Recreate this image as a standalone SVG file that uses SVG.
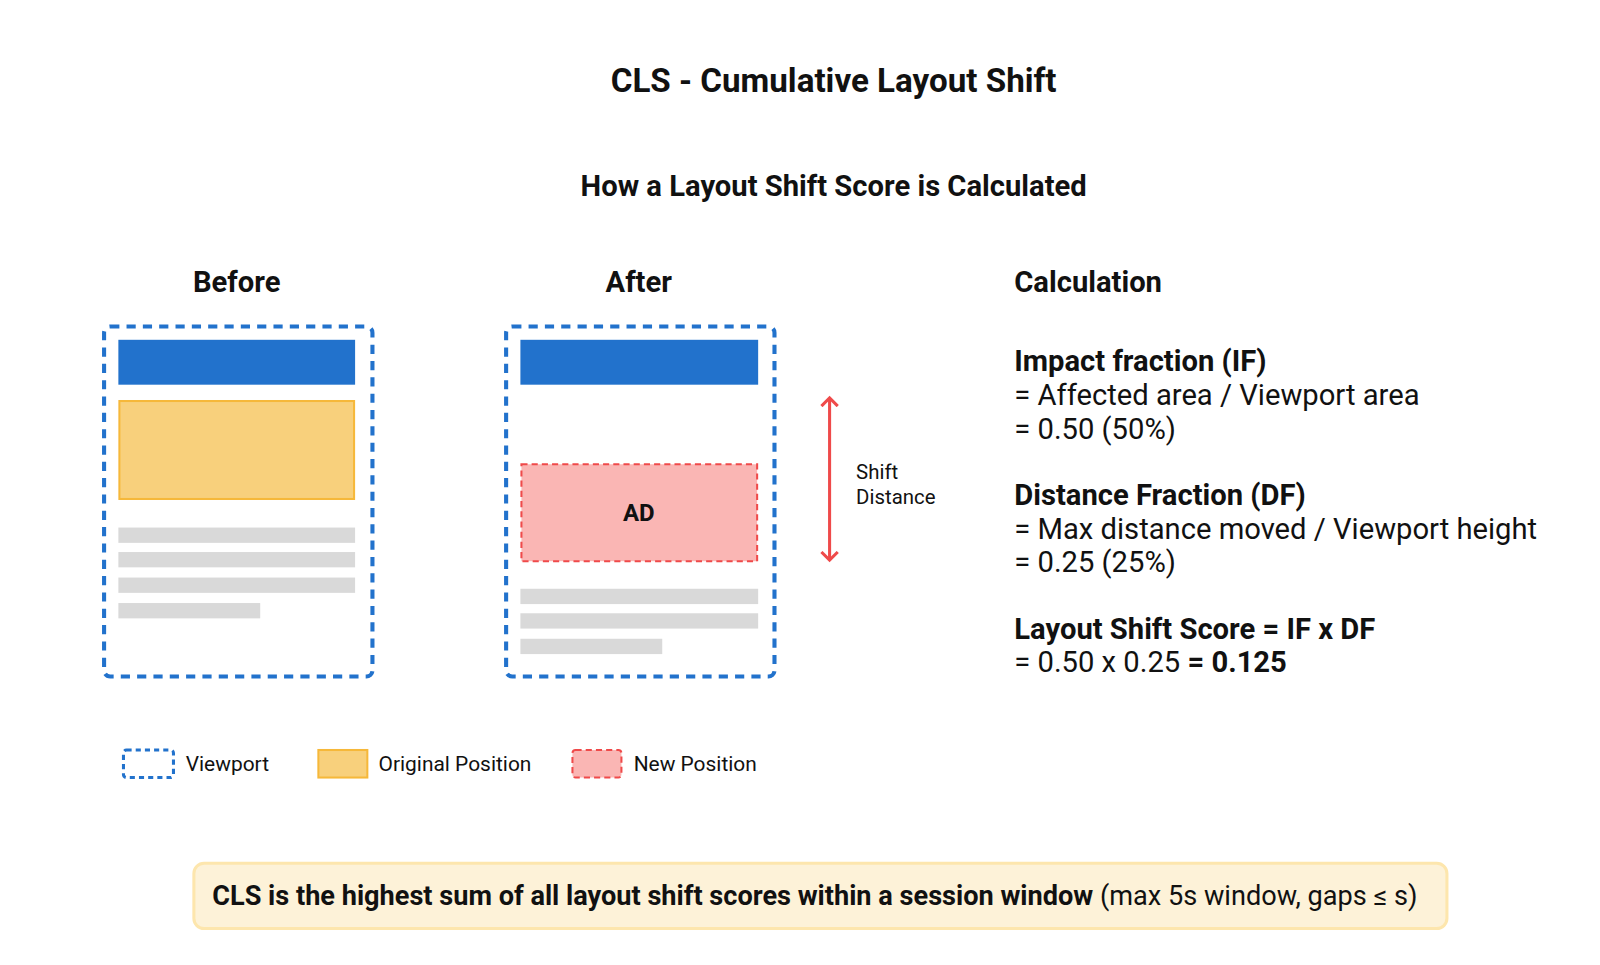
<svg xmlns="http://www.w3.org/2000/svg" width="1600" height="965" viewBox="0 0 1600 965">
<style>
text{font-family:Roboto,"Liberation Sans",sans-serif;fill:#111}
.b{font-weight:bold}
.vp{fill:none;stroke:#2272cc;stroke-width:4;stroke-dasharray:9 7}
.hdr{fill:#2272cc}
.orig{fill:#f8d07c;stroke:#f6b83a;stroke-width:2}
.new{fill:#fab6b4;stroke:#ef4a4a;stroke-width:2;stroke-dasharray:6 4}
.gray{fill:#d9d9d9}
.calc{font-size:28.6px}
</style>
<defs>
<marker id="ah" markerWidth="16" markerHeight="20" refX="9" refY="10" orient="auto-start-reverse" markerUnits="userSpaceOnUse">
<path d="M1,2 L9,10 L1,18" fill="none" stroke="#ef4a4a" stroke-width="3"/>
</marker>
</defs>
<rect width="1600" height="965" fill="#fff"/>
<g transform="scale(1.0204)">
<text x="817" y="90" text-anchor="middle" font-size="32.5" class="b">CLS - Cumulative Layout Shift</text>
<text x="817" y="192" text-anchor="middle" font-size="28.6" class="b">How a Layout Shift Score is Calculated</text>
<text x="232" y="286" text-anchor="middle" font-size="28.6" class="b">Before</text>
<text x="626" y="286" text-anchor="middle" font-size="28.6" class="b">After</text>
<text x="994" y="286" font-size="28.6" class="b">Calculation</text>
<g id="before">
<rect class="vp" x="102" y="320" width="263" height="343" rx="6"/>
<rect class="hdr" x="116" y="333" width="232" height="44"/>
<rect class="orig" x="117" y="393" width="230" height="96"/>
<rect class="gray" x="116" y="517" width="232" height="15"/>
<rect class="gray" x="116" y="541" width="232" height="15"/>
<rect class="gray" x="116" y="566" width="232" height="15"/>
<rect class="gray" x="116" y="591" width="139" height="15"/>
</g>
<g id="after">
<rect class="vp" x="496" y="320" width="263" height="343" rx="6"/>
<rect class="hdr" x="510" y="333" width="233" height="44"/>
<rect class="new" x="511" y="455" width="231" height="95"/>
<text x="626" y="511" text-anchor="middle" font-size="23.5" class="b">AD</text>
<rect class="gray" x="510" y="577" width="233" height="15"/>
<rect class="gray" x="510" y="601" width="233" height="15"/>
<rect class="gray" x="510" y="626" width="139" height="15"/>
</g>
<g id="connectors">
<line x1="813" y1="390" x2="813" y2="549" stroke="#ef4a4a" stroke-width="3" marker-start="url(#ah)" marker-end="url(#ah)"/>
</g>
<text x="839" y="469" font-size="20">Shift</text>
<text x="839" y="494" font-size="20">Distance</text>
<g id="calculation" class="calc">
<text x="994" y="364" class="b">Impact fraction (IF)</text>
<text x="994" y="397">= Affected area / Viewport area</text>
<text x="994" y="430">= 0.50 (50%)</text>
<text x="994" y="495" class="b">Distance Fraction (DF)</text>
<text x="994" y="528">= Max distance moved / Viewport height</text>
<text x="994" y="561">= 0.25 (25%)</text>
<text x="994" y="626" class="b">Layout Shift Score = IF x DF</text>
<text x="994" y="659">= 0.50 x 0.25 <tspan class="b">= 0.125</tspan></text>
</g>
<g id="legend" font-size="20.5">
<rect x="121" y="735" width="49" height="27" rx="3" fill="none" stroke="#2272cc" stroke-width="3" stroke-dasharray="5 4"/>
<text x="182" y="756">Viewport</text>
<rect class="orig" x="312" y="735" width="48" height="27"/>
<text x="371" y="756">Original Position</text>
<rect class="new" x="561" y="735" width="48" height="27" rx="3"/>
<text x="621" y="756">New Position</text>
</g>
<g id="note">
<rect x="190" y="846" width="1228" height="64" rx="10" fill="#fdf2d8" stroke="#fde6ad" stroke-width="3"/>
<text x="208" y="887" font-size="26.6"><tspan class="b">CLS is the highest sum of all layout shift scores within a session window</tspan> (max 5s window, gaps ≤ s)</text>
</g>
</g>
</svg>
